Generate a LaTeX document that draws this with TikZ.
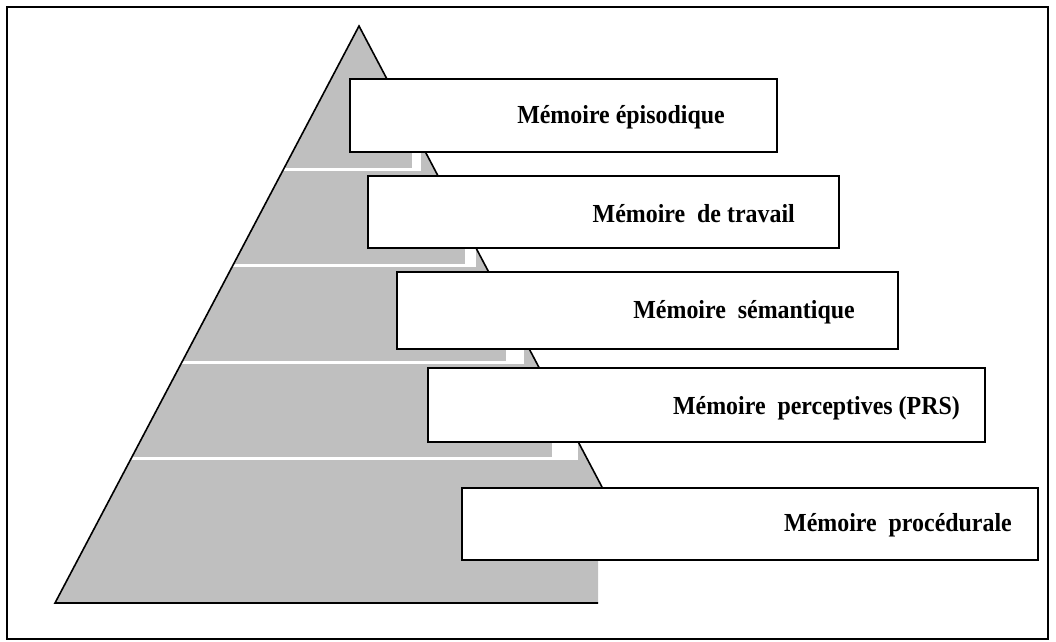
\documentclass[tikz,border=0pt]{standalone}
\usepackage{fontspec}
\setmainfont{Liberation Serif}
\newfontfamily\memofont{Liberation Serif}[FakeStretch=0.92]
\begin{document}
\begin{tikzpicture}[x=1pt,y=-1pt,
  outline/.style={line width=1.6pt, line join=miter},
  memobox/.style={draw, line width=1.6pt, fill=white, rectangle, inner sep=0pt, anchor=north west},
  memotext/.style={font=\memofont\fontsize{26}{30}\selectfont\bfseries, anchor=base east, inner sep=0pt},
  layerfill/.style={fill=black!25},
  sep/.style={fill=white}]
\useasboundingbox (0,0) rectangle (1056,641);
% outer frame
\draw[line width=1.4pt] (7,7) rectangle (1048,639);

% pyramid corners
\coordinate (apex) at (359,26);
\coordinate (lb) at (55,603);
\coordinate (rb) at (598,603);
\coordinate (rt) at (598,487);
\coordinate (rd) at (602,487);

\fill[layerfill] (apex) -- (lb) -- (rb) -- (rt) -- (rd) -- cycle;

% white separations between the layers
\begin{scope}
  \clip (apex) -- (lb) -- (rb) -- (rt) -- (rd) -- cycle;
  \fill[sep] (0,167.5) rectangle (421,170.5);
  \fill[sep] (412,151) rectangle (421,170.5);
  \fill[sep] (0,263.5) rectangle (476,266.5);
  \fill[sep] (465,247) rectangle (476,266.5);
  \fill[sep] (0,360.5) rectangle (524,363.5);
  \fill[sep] (506,349) rectangle (524,363.5);
  \fill[sep] (0,456.5) rectangle (578,459.5);
  \fill[sep] (552,441) rectangle (578,459.5);
\end{scope}

\draw[outline] (rb) -- (lb) -- (apex) -- (rd);

% memory boxes
\node[memobox, minimum width=427pt, minimum height=73pt] (b1) at (349,78) {};
\node[memobox, minimum width=471pt, minimum height=72pt] (b2) at (367,175) {};
\node[memobox, minimum width=501pt, minimum height=77pt] (b3) at (396,271) {};
\node[memobox, minimum width=557pt, minimum height=74pt] (b4) at (427,367) {};
\node[memobox, minimum width=576pt, minimum height=72pt] (b5) at (461,487) {};

\node[memotext] (t1) at (725,123) {Mémoire épisodique};
\node[memotext] (t2) at (795,222) {Mémoire~ de travail};
\node[memotext] (t3) at (855,318) {Mémoire~ sémantique};
\node[memotext] (t4) at (960,414) {Mémoire~ perceptives (PRS)};
\node[memotext] (t5) at (1012,531) {Mémoire~ procédurale};
\end{tikzpicture}
\end{document}
